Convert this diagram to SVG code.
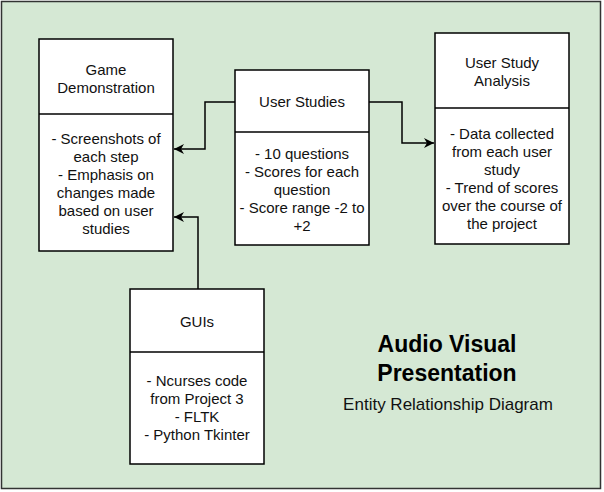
<svg xmlns="http://www.w3.org/2000/svg" width="604" height="492" viewBox="0 0 604 492">
<style>
.box{fill:#ffffff;stroke:#000000;stroke-width:1.5}
.div{stroke:#000000;stroke-width:1.5;fill:none}
.t{font-family:"Liberation Sans",Arial,sans-serif;font-size:15px;fill:#111111;text-anchor:middle}
.c{fill:none;stroke:#000000;stroke-width:1.5}
</style>
<defs>
<marker id="arr" markerWidth="12" markerHeight="10" refX="10" refY="5" orient="auto" markerUnits="userSpaceOnUse">
<path d="M0,0 L10,5 L0,10 L3,5 Z" fill="#000000"/>
</marker>
</defs>
<rect x="1.5" y="1.5" width="599" height="487" fill="#d5e8d4" stroke="#333333" stroke-width="1.5"/>
<g id="connectors">
<path class="c" d="M235,102 H205 V149 H174" marker-end="url(#arr)"/>
<path class="c" d="M198,289 V217 H174" marker-end="url(#arr)"/>
<path class="c" d="M369,102 H402 V143 H434" marker-end="url(#arr)"/>
</g>
<g id="game-demonstration">
<rect class="box" x="39" y="39" width="134" height="212"/>
<line class="div" x1="39" y1="114" x2="173" y2="114"/>
<text class="t" x="106" y="75">Game</text>
<text class="t" x="106" y="93">Demonstration</text>
<text class="t" x="106" y="144">- Screenshots of</text>
<text class="t" x="106" y="162">each step</text>
<text class="t" x="106" y="180">- Emphasis on</text>
<text class="t" x="106" y="198">changes made</text>
<text class="t" x="106" y="216">based on user</text>
<text class="t" x="106" y="234">studies</text>
</g>
<g id="user-studies">
<rect class="box" x="235" y="70" width="134" height="175"/>
<line class="div" x1="235" y1="132" x2="369" y2="132"/>
<text class="t" x="302" y="107">User Studies</text>
<text class="t" x="302" y="159">- 10 questions</text>
<text class="t" x="302" y="177">- Scores for each</text>
<text class="t" x="302" y="195">question</text>
<text class="t" x="302" y="213">- Score range -2 to</text>
<text class="t" x="302" y="231">+2</text>
</g>
<g id="user-study-analysis">
<rect class="box" x="435" y="33" width="134" height="211"/>
<line class="div" x1="435" y1="108" x2="569" y2="108"/>
<text class="t" x="502" y="68">User Study</text>
<text class="t" x="502" y="86">Analysis</text>
<text class="t" x="502" y="139">- Data collected</text>
<text class="t" x="502" y="157">from each user</text>
<text class="t" x="502" y="175">study</text>
<text class="t" x="502" y="193">- Trend of scores</text>
<text class="t" x="502" y="211">over the course of</text>
<text class="t" x="502" y="229">the project</text>
</g>
<g id="guis">
<rect class="box" x="130" y="289" width="134" height="175"/>
<line class="div" x1="130" y1="352" x2="264" y2="352"/>
<text class="t" x="197" y="327">GUIs</text>
<text class="t" x="197" y="386">- Ncurses code</text>
<text class="t" x="197" y="404">from Project 3</text>
<text class="t" x="197" y="422">- FLTK</text>
<text class="t" x="197" y="440">- Python Tkinter</text>
</g>
<g id="title">
<text x="447" y="352" font-family="'Liberation Sans',Arial,sans-serif" font-size="23" font-weight="bold" text-anchor="middle" fill="#000000">Audio Visual</text>
<text x="447" y="381" font-family="'Liberation Sans',Arial,sans-serif" font-size="23" font-weight="bold" text-anchor="middle" fill="#000000">Presentation</text>
<text x="448" y="410" font-family="'Liberation Sans',Arial,sans-serif" font-size="17" text-anchor="middle" fill="#111111">Entity Relationship Diagram</text>
</g>
</svg>
